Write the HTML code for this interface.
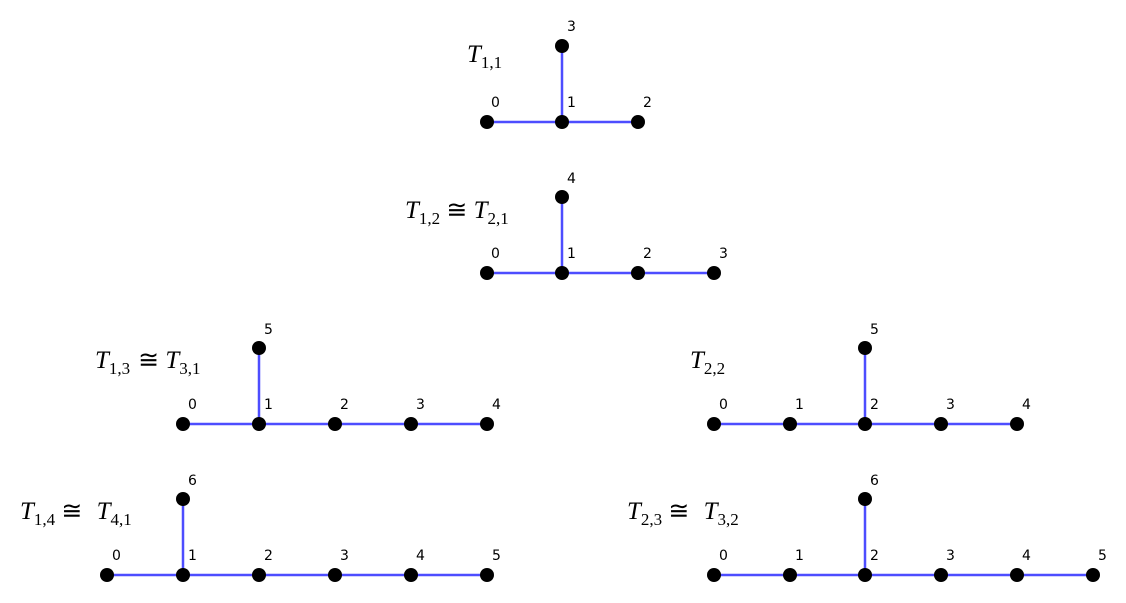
<!DOCTYPE html>
<html><head><meta charset="utf-8"><style>
html,body{margin:0;padding:0;background:#fff;}
svg{display:block;}
.l{font-family:"DejaVu Sans","Liberation Sans",sans-serif;font-size:14px;fill:#000;}
.t{font-family:"Liberation Serif",serif;font-size:25px;font-style:italic;fill:#000;}
.s{font-size:17px;font-style:normal;}
.c{font-style:normal;}
line{stroke:#4d4dff;stroke-width:2.5;}
circle{fill:#000;}
</style></head><body>
<svg width="1126" height="603" viewBox="0 0 1126 603" xmlns="http://www.w3.org/2000/svg">
<!-- T11 -->
<line x1="487" y1="122" x2="638" y2="122"/><line x1="562" y1="122" x2="562" y2="46"/>
<circle cx="487" cy="122" r="7"/><circle cx="562" cy="122" r="7"/><circle cx="638" cy="122" r="7"/><circle cx="562" cy="46" r="7"/>
<text class="l" x="491" y="107">0</text><text class="l" x="567" y="107">1</text><text class="l" x="643" y="107">2</text><text class="l" x="567" y="31">3</text>
<text class="t" x="467" y="62">T<tspan class="s" dy="6">1,1</tspan></text>
<!-- T12 -->
<line x1="487" y1="273" x2="714" y2="273"/><line x1="562" y1="273" x2="562" y2="197"/>
<circle cx="487" cy="273" r="7"/><circle cx="562" cy="273" r="7"/><circle cx="638" cy="273" r="7"/><circle cx="714" cy="273" r="7"/><circle cx="562" cy="197" r="7"/>
<text class="l" x="491" y="258">0</text><text class="l" x="567" y="258">1</text><text class="l" x="643" y="258">2</text><text class="l" x="719" y="258">3</text><text class="l" x="567" y="183">4</text>
<text class="t" x="405" y="218">T<tspan class="s" dy="6">1,2</tspan><tspan class="c" dy="-6"> ≅ </tspan>T<tspan class="s" dy="6">2,1</tspan></text>
<!-- T13 -->
<line x1="183" y1="424" x2="487" y2="424"/><line x1="259" y1="424" x2="259" y2="348"/>
<circle cx="183" cy="424" r="7"/><circle cx="259" cy="424" r="7"/><circle cx="335" cy="424" r="7"/><circle cx="411" cy="424" r="7"/><circle cx="487" cy="424" r="7"/><circle cx="259" cy="348" r="7"/>
<text class="l" x="188" y="409">0</text><text class="l" x="264" y="409">1</text><text class="l" x="340" y="409">2</text><text class="l" x="416" y="409">3</text><text class="l" x="492" y="409">4</text><text class="l" x="264" y="334">5</text>
<text class="t" x="95" y="368">T<tspan class="s" dy="6">1,3</tspan><tspan class="c" dy="-6" dx="8">≅ </tspan>T<tspan class="s" dy="6">3,1</tspan></text>
<!-- T22 -->
<line x1="714" y1="424" x2="1017" y2="424"/><line x1="865" y1="424" x2="865" y2="348"/>
<circle cx="714" cy="424" r="7"/><circle cx="790" cy="424" r="7"/><circle cx="865" cy="424" r="7"/><circle cx="941" cy="424" r="7"/><circle cx="1017" cy="424" r="7"/><circle cx="865" cy="348" r="7"/>
<text class="l" x="719" y="409">0</text><text class="l" x="795" y="409">1</text><text class="l" x="870" y="409">2</text><text class="l" x="946" y="409">3</text><text class="l" x="1022" y="409">4</text><text class="l" x="870" y="334">5</text>
<text class="t" x="690" y="368">T<tspan class="s" dy="6">2,2</tspan></text>
<!-- T14 -->
<line x1="107" y1="575" x2="487" y2="575"/><line x1="183" y1="575" x2="183" y2="499"/>
<circle cx="107" cy="575" r="7"/><circle cx="183" cy="575" r="7"/><circle cx="259" cy="575" r="7"/><circle cx="335" cy="575" r="7"/><circle cx="411" cy="575" r="7"/><circle cx="487" cy="575" r="7"/><circle cx="183" cy="499" r="7"/>
<text class="l" x="112" y="560">0</text><text class="l" x="188" y="560">1</text><text class="l" x="264" y="560">2</text><text class="l" x="340" y="560">3</text><text class="l" x="416" y="560">4</text><text class="l" x="492" y="560">5</text><text class="l" x="188" y="485">6</text>
<text class="t" x="20" y="519">T<tspan class="s" dy="6">1,4</tspan><tspan class="c" dy="-6"> ≅ </tspan><tspan dx="8">T</tspan><tspan class="s" dy="6">4,1</tspan></text>
<!-- T23 -->
<line x1="714" y1="575" x2="1093" y2="575"/><line x1="865" y1="575" x2="865" y2="499"/>
<circle cx="714" cy="575" r="7"/><circle cx="790" cy="575" r="7"/><circle cx="865" cy="575" r="7"/><circle cx="941" cy="575" r="7"/><circle cx="1017" cy="575" r="7"/><circle cx="1093" cy="575" r="7"/><circle cx="865" cy="499" r="7"/>
<text class="l" x="719" y="560">0</text><text class="l" x="795" y="560">1</text><text class="l" x="870" y="560">2</text><text class="l" x="946" y="560">3</text><text class="l" x="1022" y="560">4</text><text class="l" x="1098" y="560">5</text><text class="l" x="870" y="485">6</text>
<text class="t" x="627" y="519">T<tspan class="s" dy="6">2,3</tspan><tspan class="c" dy="-6"> ≅ </tspan><tspan dx="8">T</tspan><tspan class="s" dy="6">3,2</tspan></text>
</svg>
</body></html>
